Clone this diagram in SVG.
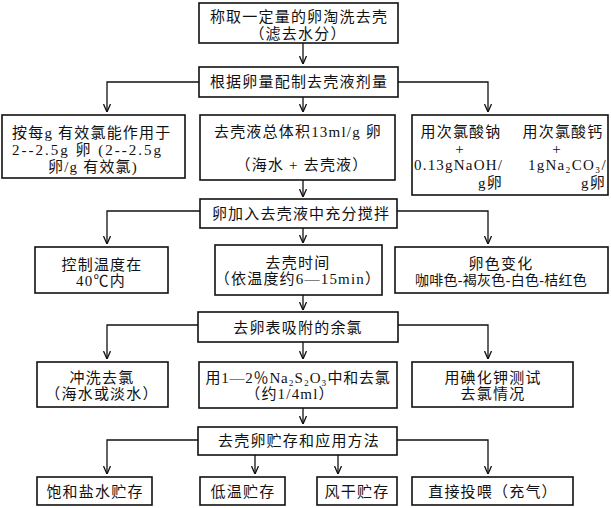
<svg xmlns="http://www.w3.org/2000/svg" width="611" height="508" viewBox="0 0 611 508">
<defs>
<marker id="arr" viewBox="0 0 8 8" refX="8" refY="4" markerWidth="8" markerHeight="8" markerUnits="userSpaceOnUse" orient="auto">
<path d="M0,0.5 L8,4 L0,7.5" fill="none" stroke="#111" stroke-width="1.3"/>
</marker>
</defs>
<style>
rect{fill:#fff;stroke:#111;stroke-width:1.6}
text{font-family:"Liberation Serif","Noto Sans CJK SC",serif;font-size:15px;fill:#111;letter-spacing:1.2px}
.c{text-anchor:middle}
.e{text-anchor:end}
.sm{font-size:14px;letter-spacing:0.3px}
#connectors path{fill:none;stroke:#111;stroke-width:1.3}
#connectors path.a{marker-end:url(#arr)}
</style>
<rect x="0" y="0" width="611" height="508" style="fill:#fff;stroke:none"/>
<g id="connectors">
<path class="a" d="M303,43 V64"/>
<path class="a" d="M199,82 H107 V112"/>
<path class="a" d="M398,82 H488 V112"/>
<path class="a" d="M303,97 V112"/>
<path class="a" d="M303,180 V197"/>
<path class="a" d="M200,211 H107 V244"/>
<path class="a" d="M397,211 H488 V244"/>
<path class="a" d="M303,228 V243"/>
<path class="a" d="M303,295 V310"/>
<path class="a" d="M198,325 H107 V359"/>
<path class="a" d="M398,325 H488 V359"/>
<path class="a" d="M303,342 V359"/>
<path class="a" d="M303,408 V424"/>
<path class="a" d="M198,440 H107 V474"/>
<path class="a" d="M397,440 H488 V474"/>
<path class="a" d="M255,455 V474"/>
<path class="a" d="M338,455 V474"/>
</g>
<g id="n1">
<rect x="199" y="3" width="199" height="40"/>
<text class="c" x="299" y="22">称取一定量的卵淘洗去壳</text>
<text class="c" x="298" y="39">（滤去水分）</text>
</g>
<g id="n2">
<rect x="199" y="67" width="199" height="30"/>
<text class="c" x="299" y="87">根据卵量配制去壳液剂量</text>
</g>
<g id="n3a">
<rect x="2" y="115" width="183" height="63"/>
<text x="12" y="138">按每g 有效氯能作用于</text>
<text x="12" y="155" style="letter-spacing:2px">2--2.5g 卵 (2--2.5g</text>
<text class="c" x="93" y="172">卵/g 有效氯)</text>
</g>
<g id="n3b">
<rect x="200" y="115" width="195" height="65"/>
<text class="c" x="298" y="137">去壳液总体积13ml/g 卵</text>
<text class="c" x="302" y="170">（海水 + 去壳液）</text>
</g>
<g id="n3c">
<rect x="412" y="115" width="196" height="80"/>
<text class="c" x="461" y="137">用次氯酸钠</text>
<text class="c" x="563" y="137">用次氯酸钙</text>
<text class="c" x="460" y="154">+</text>
<text class="c" x="557" y="154">+</text>
<text x="414" y="170">0.13gNaOH/</text>
<text x="528" y="170">1gNa₂CO₃/</text>
<text class="e" x="503" y="188">g卵</text>
<text class="e" x="606" y="188">g卵</text>
</g>
<g id="n4">
<rect x="200" y="199" width="197" height="29"/>
<text class="c" x="301" y="219">卵加入去壳液中充分搅拌</text>
</g>
<g id="n5a">
<rect x="35" y="247" width="133" height="46"/>
<text class="c" x="102" y="270">控制温度在</text>
<text class="c" x="101" y="286">40℃内</text>
</g>
<g id="n5b">
<rect x="215" y="245" width="167" height="50"/>
<text class="c" x="298" y="268">去壳时间</text>
<text class="c" x="298" y="284">（依温度约6—15min）</text>
</g>
<g id="n5c">
<rect x="395" y="247" width="213" height="46"/>
<text class="c" x="501" y="269">卵色变化</text>
<text class="c sm" x="501" y="285">咖啡色-褐灰色-白色-桔红色</text>
</g>
<g id="n6">
<rect x="198" y="312" width="200" height="30"/>
<text class="c" x="298" y="333">去卵表吸附的余氯</text>
</g>
<g id="n7a">
<rect x="37" y="362" width="131" height="45"/>
<text class="c" x="102" y="383">冲洗去氯</text>
<text class="c" x="102" y="399">（海水或淡水）</text>
</g>
<g id="n7b">
<rect x="199" y="362" width="198" height="46"/>
<text class="c" x="298" y="383" style="letter-spacing:0.8px">用1—2％Na₂S₂O₃中和去氯</text>
<text class="c" x="290" y="399">（约1/4ml）</text>
</g>
<g id="n7c">
<rect x="412" y="362" width="161" height="45"/>
<text class="c" x="493" y="383">用碘化钾测试</text>
<text class="c" x="493" y="399">去氯情况</text>
</g>
<g id="n8">
<rect x="198" y="427" width="199" height="28"/>
<text class="c" x="299" y="446">去壳卵贮存和应用方法</text>
</g>
<g id="n9a">
<rect x="37" y="477" width="115" height="28"/>
<text class="c" x="95" y="497">饱和盐水贮存</text>
</g>
<g id="n9b">
<rect x="200" y="477" width="85" height="28"/>
<text class="c" x="243" y="497">低温贮存</text>
</g>
<g id="n9c">
<rect x="317" y="477" width="80" height="28"/>
<text class="c" x="357" y="497">风干贮存</text>
</g>
<g id="n9d">
<rect x="412" y="477" width="161" height="28"/>
<text class="c" x="493" y="497">直接投喂（充气）</text>
</g>
</svg>
